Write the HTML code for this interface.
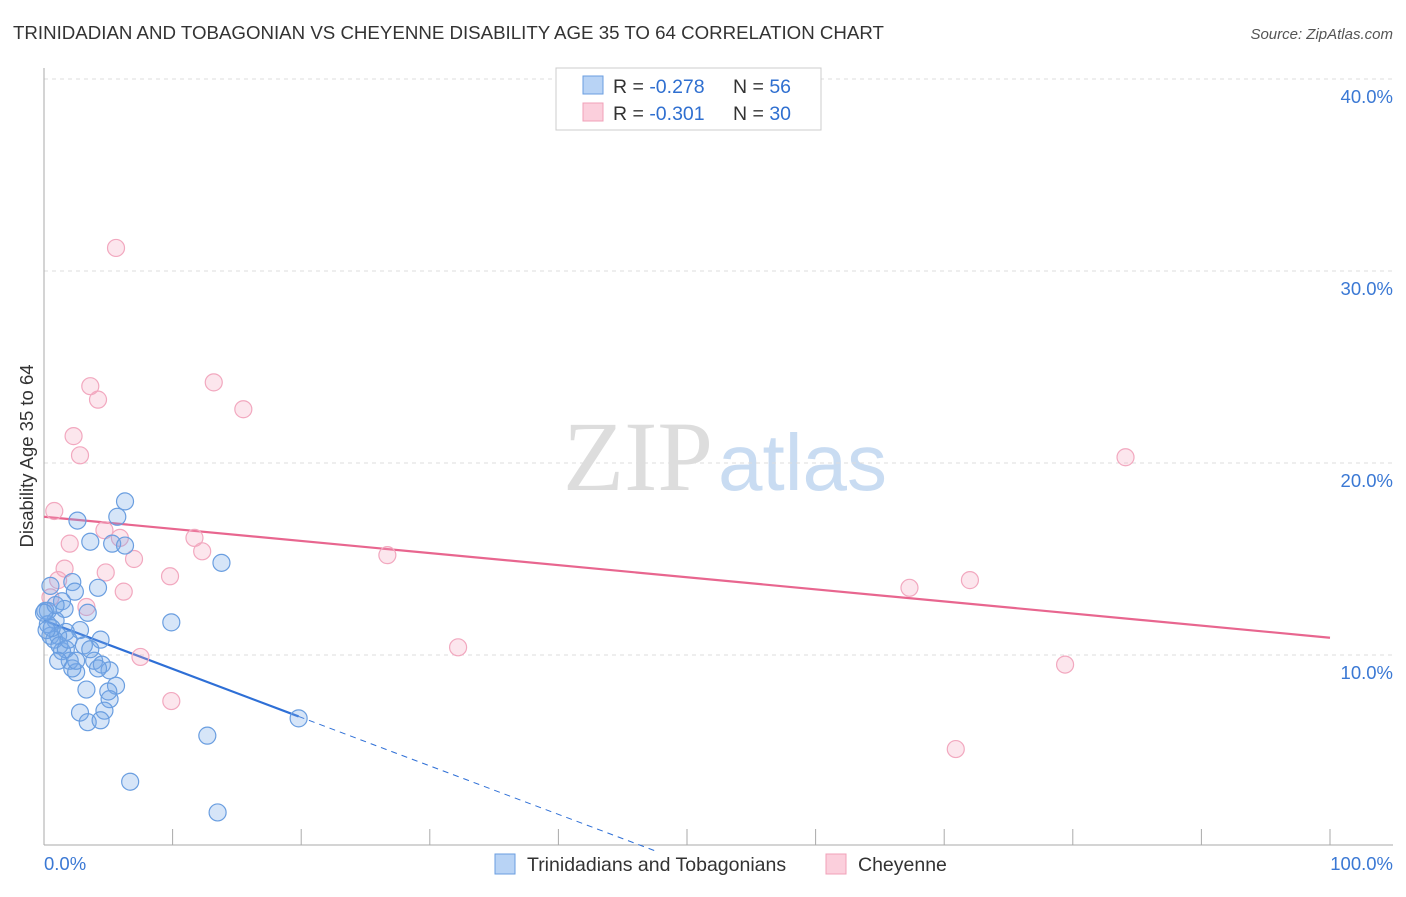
<!DOCTYPE html>
<html><head><meta charset="utf-8"><style>
body{margin:0;background:#fff;font-family:"Liberation Sans",sans-serif;}
</style></head><body>
<svg width="1406" height="892" xmlns="http://www.w3.org/2000/svg" font-family="Liberation Sans, sans-serif">
<text x="13" y="39" font-size="18.7" fill="#333">TRINIDADIAN AND TOBAGONIAN VS CHEYENNE DISABILITY AGE 35 TO 64 CORRELATION CHART</text>
<text x="1393" y="39" font-size="15" fill="#555" font-style="italic" text-anchor="end">Source: ZipAtlas.com</text>
<text x="713" y="490" font-size="100" fill="#ddd" text-anchor="end" font-family="Liberation Serif, serif">ZIP</text>
<text x="718" y="490" font-size="80" fill="#c9dcf2">atlas</text>
<g id="grid"></g>
<g id="axes"></g>
<text transform="translate(33,456) rotate(-90)" font-size="18.5" fill="#333" text-anchor="middle">Disability Age 35 to 64</text>
<g id="trends"></g>
<g id="points"></g>
<g>
<rect x="556" y="68" width="265" height="62" fill="#fff" stroke="#ccc"/>
<rect x="583" y="76" width="20" height="18" fill="#b8d3f5" stroke="#6a9ee0"/>
<rect x="583" y="103" width="20" height="18" fill="#fbcfdc" stroke="#f0a0b8"/>
<text x="613" y="93" font-size="19.5" fill="#333">R = <tspan fill="#2f6fd0">-0.278</tspan></text>
<text x="733" y="93" font-size="19.5" fill="#333">N = <tspan fill="#2f6fd0">56</tspan></text>
<text x="613" y="120" font-size="19.5" fill="#333">R = <tspan fill="#2f6fd0">-0.301</tspan></text>
<text x="733" y="120" font-size="19.5" fill="#333">N = <tspan fill="#2f6fd0">30</tspan></text>
</g>
<g>
<rect x="495" y="854" width="20" height="20" fill="#b8d3f5" stroke="#6a9ee0"/>
<text x="527" y="871" font-size="19.5" fill="#333">Trinidadians and Tobagonians</text>
<rect x="826" y="854" width="20" height="20" fill="#fbcfdc" stroke="#f0a0b8"/>
<text x="858" y="871" font-size="19.5" fill="#333">Cheyenne</text>
</g>
</svg>
<script>
const yTicks=[10,20,30,40];
const yTickLabels=["10.0%","20.0%","30.0%","40.0%"];
const xTicks=[0,10,20,30,40,50,60,70,80,90,100];
const blueX=[6.3,5.7,2.6,3.6,5.3,6.3,13.8,2.2,0.5,4.2,2.4,1.4,1.6,3.4,0.3,9.9,0.9,2.8,1.7,0.5,1.1,4.4,3.1,0.8,1.4,2.0,3.9,4.5,2.5,5.1,4.2,5.6,3.3,5.1,2.8,4.7,3.4,4.4,12.7,19.8,6.7,13.5,0.1,0.3,1.2,0.6,1.7,2.2,0.9,0.0,0.2,1.9,5.0,2.5,1.1,3.6];
const blueY=[18.0,17.2,17.0,15.9,15.8,15.7,14.8,13.8,13.6,13.5,13.3,12.8,12.4,12.2,12.3,11.7,11.8,11.3,11.2,11.0,11.0,10.8,10.5,10.8,10.2,9.7,9.7,9.5,9.1,9.2,9.3,8.4,8.2,7.7,7.0,7.1,6.5,6.6,5.8,6.7,3.4,1.8,12.3,11.6,10.5,11.4,10.3,9.3,12.6,12.2,11.3,10.8,8.1,9.7,9.7,10.3];
const pinkX=[5.6,13.2,3.6,4.2,15.5,2.3,2.8,84.1,0.8,2.0,4.7,5.9,11.7,7.0,12.3,26.7,1.6,9.8,4.8,1.1,6.2,3.3,0.5,72.0,67.3,32.2,7.5,79.4,9.9,70.9];
const pinkY=[31.2,24.2,24.0,23.3,22.8,21.4,20.4,20.3,17.5,15.8,16.5,16.1,16.1,15.0,15.4,15.2,14.5,14.1,14.3,13.9,13.3,12.5,13.0,13.9,13.5,10.4,9.9,9.5,7.6,5.1];
const blueTrend=[11.8,6.8];   // values at x=0 and x=19.8
const blueTrendEnd=[19.8,47.5];
const pinkTrend=[17.2,10.9];  // values at x=0 and x=100

const NS="http://www.w3.org/2000/svg";
const X=v=>44+v*12.86;
const Y=v=>847-v*19.2;
function mk(tag,attrs,parent){const e=document.createElementNS(NS,tag);for(const k in attrs)e.setAttribute(k,attrs[k]);document.getElementById(parent).appendChild(e);return e;}

yTicks.forEach((t,i)=>{
  const g=mk('line',{x1:44,x2:1393,y1:Y(t),y2:Y(t),stroke:'#ddd','stroke-dasharray':'4,4'},'grid');
  
  
  const l=mk('text',{x:1393,y:Y(t)+24,'font-size':18.5,fill:'#3a78d4','text-anchor':'end'},'grid');
  l.textContent=yTickLabels[i];
  
  
});
const ya=mk('line',{x1:44,x2:44,y1:68,y2:845,stroke:'#aaa'},'axes');


const xa=mk('line',{x1:44,x2:1393,y1:845,y2:845,stroke:'#aaa'},'axes');


xTicks.forEach(t=>{
  const tk=mk('line',{x1:X(t),x2:X(t),y1:829,y2:845,stroke:'#aaa'},'axes');
  
  
});
const xl0=mk('text',{x:44,y:870,'font-size':18.5,fill:'#3a78d4'},'axes');xl0.textContent='0.0%';


const xl1=mk('text',{x:1393,y:870,'font-size':18.5,fill:'#3a78d4','text-anchor':'end'},'axes');xl1.textContent='100.0%';



const slope=(blueTrend[1]-blueTrend[0])/blueTrendEnd[0];
const bt=mk('line',{x1:X(0),y1:Y(blueTrend[0]),x2:X(blueTrendEnd[0]),y2:Y(blueTrend[1]),stroke:'#2e6fd6','stroke-width':2.2},'trends');


const bd=mk('line',{x1:X(blueTrendEnd[0]),y1:Y(blueTrend[1]),x2:X(blueTrendEnd[1]),y2:Y(blueTrend[0]+slope*blueTrendEnd[1]),stroke:'#2e6fd6','stroke-width':1,'stroke-dasharray':'6,5'},'trends');


const pt=mk('line',{x1:X(0),y1:Y(pinkTrend[0]),x2:X(100),y2:Y(pinkTrend[1]),stroke:'#e8668f','stroke-width':2.2},'trends');



pinkX.forEach((v,i)=>{
  const c=mk('circle',{cx:X(v),cy:Y(pinkY[i]),r:8.5,fill:'rgba(245,165,190,0.28)',stroke:'#f2a8bf','stroke-width':1.2},'points');
  
  
});
blueX.forEach((v,i)=>{
  const c=mk('circle',{cx:X(v),cy:Y(blueY[i]),r:8.5,fill:'rgba(120,170,232,0.3)',stroke:'#6a9ee0','stroke-width':1.2},'points');
  
  
});
</script>
</body></html>
